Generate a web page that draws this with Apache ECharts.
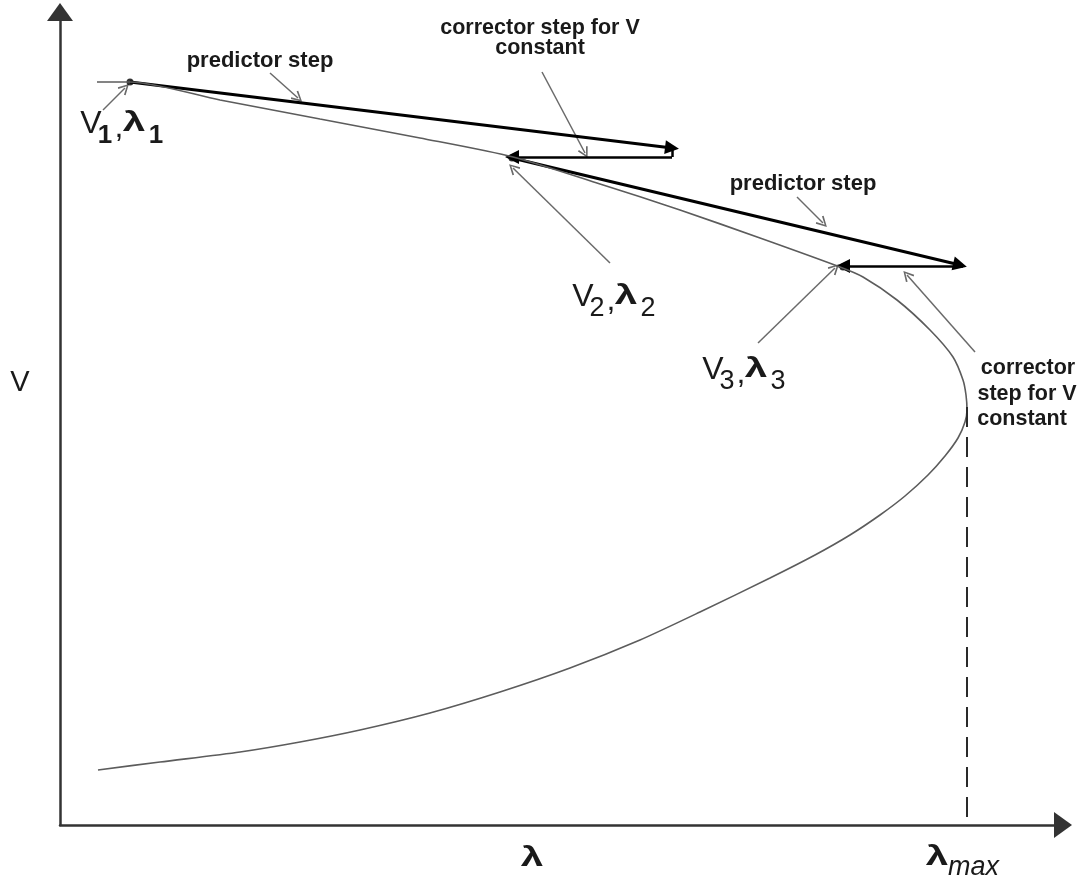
<!DOCTYPE html>
<html>
<head>
<meta charset="utf-8">
<script src="https://cdn.jsdelivr.net/npm/echarts@6/dist/echarts.min.js"></script>
<style>
  html, body { margin: 0; padding: 0; background: #fff; }
  #chart { width: 1084px; height: 881px; }
</style>
</head>
<body>
<div id="chart"></div>
<script>
// P-V "nose" curve traced by a continuation power flow:
// predictor steps along the tangent, corrector steps at constant V.

// Nose curve, upper branch from the base case round the nose to the lower branch
const curveLambda = [37, 70, 160, 260, 360, 453, 540, 620, 700, 780, 803, 837, 870, 893, 903, 906, 907,
                     905, 898, 885, 868, 845, 820, 790, 755, 710, 640, 580, 510, 440, 370, 300, 240, 180, 100, 38];
const curveV      = [743, 743, 725, 706, 687, 668, 641, 615, 587, 558, 548, 525, 495, 468, 445, 430, 415,
                     403, 387, 369, 350, 329, 310, 290, 270, 247, 213, 185, 157, 133, 112, 95, 83, 73, 63, 55];

// Converged solutions (V1,λ1), (V2,λ2), (V3,λ3)
const solutionLambda = [70, 452, 783];
const solutionV      = [743, 667, 558];

// Predictor steps: start -> predicted point
const predictorFrom = [[70, 743], [452, 667]];
const predictorTo   = [[612, 677], [900, 560]];

// Corrector steps (V held constant): predicted lambda -> corrected lambda
const correctorFrom = [[612, 668], [903, 559]];
const correctorTo   = [[452, 668], [783, 559]];
const correctorJog  = [[612, 677], [612, 668]];

// Maximum loadability
const lambdaMax = 907;
const lambdaMaxV = 418;

// Annotation pointer lines: from label -> to target
const pointerFrom = [[210, 752], [482, 753], [43, 715], [550, 562], [737, 628], [698, 482], [915, 473]];
const pointerTo   = [[238, 727], [525, 672], [65, 737], [453, 657], [763, 602], [775, 557], [847, 550]];

// Solution point indices used in the labels
const solutionNames = ['1', '2', '3'];

const chevron = 'path://M0,0 L6,9 L4.4,9.8 L0,2.8 L-4.4,9.8 L-6,9 Z';

const chart = echarts.init(document.getElementById('chart'), null, { renderer: 'canvas' });

const FAM = '"Liberation Sans", Arial, sans-serif';

function txt(text, x, y, font, align, extra) {
  return Object.assign({
    type: 'text', x: x, y: y, silent: true,
    style: {
      text: text, font: font, fill: '#1a1a1a',
      textAlign: align || 'center', textVerticalAlign: 'middle',
      align: align || 'center', verticalAlign: 'middle'
    }
  }, extra || {});
}

const fV = 'normal 32px ' + FAM;
const fL = 'bold 27px ' + FAM;
const fSub = 'normal 27px ' + FAM;
const fSubB = 'bold 26px ' + FAM;
const fAnn = 'bold 21.5px ' + FAM;
const fPred = 'bold 22px ' + FAM;
const wide = { scaleX: 1.5 };

// "V_i , λ_i" label, laid out from its left edge and the V's middle line
function solutionLabel(name, left, mid, subFont) {
  return [
    txt('V', left + 11, mid + 2, fV),
    txt(name, left + 25, mid + 14, subFont),
    txt(',', left + 39, mid + 6, fV),
    txt('λ', left + 54, mid + 2, fL, 'center', wide),
    txt(name, left + 76, mid + 14, subFont)
  ];
}

const labels = [
  // annotations
  txt('predictor step', 260, 61, fPred),
  txt('corrector step for V', 540, 28, fAnn),
  txt('constant', 540, 48, fAnn),
  txt('predictor step', 803, 184, fPred),
  txt('corrector', 1028, 368, fAnn),
  txt('step for V', 1027, 394, fAnn),
  txt('constant', 1022, 419, fAnn),
  // solution labels
  ...solutionLabel(solutionNames[0], 80, 122, fSubB),
  ...solutionLabel(solutionNames[1], 572, 295, fSub),
  ...solutionLabel(solutionNames[2], 702, 368, fSub),
  // axis names
  txt('V', 20, 383, 'normal 29px ' + FAM),
  txt('λ', 532, 859, 'bold 27px ' + FAM, 'center', wide),
  txt('λ', 937, 858, 'bold 27px ' + FAM, 'center', wide),
  txt('max', 948, 867, 'italic 27px ' + FAM, 'left')
];

function segs(from, to) {
  return from.map((p, i) => ({ coords: [p, to[i]] }));
}

const axisCommon = {
  type: 'value', min: 0,
  axisLine: { show: true, onZero: false, lineStyle: { color: '#333', width: 2.5 },
    symbol: ['none', 'triangle'], symbolSize: [26, 18] },
  axisTick: { show: false }, axisLabel: { show: false }, splitLine: { show: false }
};

const option = {
  backgroundColor: '#ffffff',
  animation: false,
  grid: { left: 60, right: 21, top: 12, bottom: 56, containLabel: false },
  xAxis: Object.assign({}, axisCommon, { max: 1003 }),
  yAxis: Object.assign({}, axisCommon, { max: 813 }),
  series: [
    {
      name: 'PV curve', type: 'line', smooth: 0.25, showSymbol: false, silent: true,
      data: curveLambda.map((l, i) => [l, curveV[i]]),
      lineStyle: { color: '#5c5c5c', width: 1.6 }
    },
    {
      name: 'lambda max', type: 'line', showSymbol: false, silent: true,
      data: [[lambdaMax, lambdaMaxV], [lambdaMax, 0]],
      lineStyle: { color: '#2a2a2a', width: 2, type: [20, 10] }
    },
    {
      name: 'pointers', type: 'lines', coordinateSystem: 'cartesian2d', silent: true,
      symbol: ['none', chevron], symbolSize: 11,
      lineStyle: { color: '#6a6a6a', width: 1.5, opacity: 1, curveness: 0 },
      data: segs(pointerFrom, pointerTo)
    },
    {
      name: 'corrector jog', type: 'lines', coordinateSystem: 'cartesian2d', silent: true,
      symbol: 'none',
      lineStyle: { color: '#000', width: 2.5, opacity: 1 },
      data: [{ coords: correctorJog }]
    },
    {
      name: 'predictor', type: 'lines', coordinateSystem: 'cartesian2d', silent: true,
      symbol: ['none', 'triangle'], symbolSize: 14,
      lineStyle: { color: '#000', width: 3, opacity: 1 },
      data: segs(predictorFrom, predictorTo)
    },
    {
      name: 'corrector', type: 'lines', coordinateSystem: 'cartesian2d', silent: true,
      symbol: ['none', 'triangle'], symbolSize: 14,
      lineStyle: { color: '#000', width: 2.5, opacity: 1 },
      data: segs(correctorFrom, correctorTo)
    },
    {
      name: 'solutions', type: 'scatter', silent: true, symbolSize: 7,
      itemStyle: { color: '#000' },
      data: solutionLambda.map((l, i) => [l, solutionV[i]])
    }
  ],
  graphic: { elements: labels }
};

chart.setOption(option);
</script>
</body>
</html>
